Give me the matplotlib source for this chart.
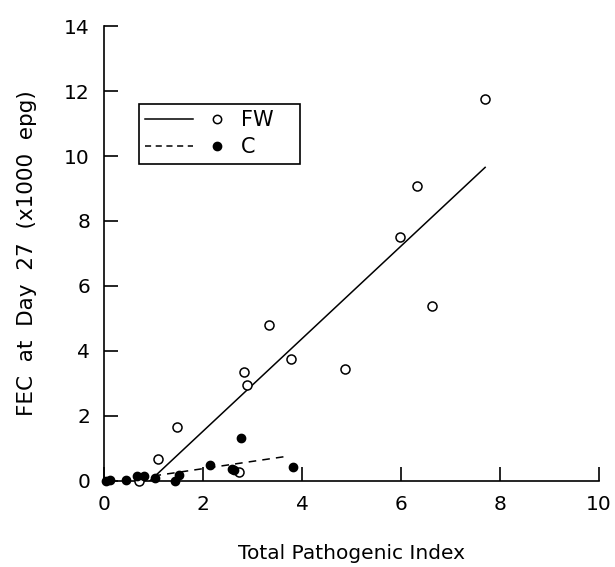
import matplotlib.pyplot as plt
from matplotlib.legend_handler import HandlerTuple
from matplotlib.lines import Line2D

# FW group (open circles)
fw_x = [7.69, 6.32, 5.99, 6.62, 4.86, 3.34, 3.77, 2.83, 2.89, 2.73, 1.48, 1.09, 0.71]
fw_y = [11.75, 9.08, 7.50, 5.38, 3.45, 4.80, 3.75, 3.35, 2.95, 0.28, 1.67, 0.68, 0.0]
fw_fit_x = [0.93, 7.70]
fw_fit_y = [0.0, 9.65]

# C group (filled circles)
c_x = [0.04, 0.12, 0.45, 0.67, 0.81, 1.03, 1.44, 1.52, 2.15, 2.59, 2.63, 2.77, 3.81]
c_y = [0.0, 0.02, 0.03, 0.15, 0.15, 0.09, 0.0, 0.18, 0.49, 0.37, 0.34, 1.32, 0.43]
c_fit_x = [1.00, 3.72]
c_fit_y = [0.15, 0.76]

xticks = [0, 2, 4, 6, 8, 10]
yticks = [0, 2, 4, 6, 8, 10, 12, 14]

plt.rcParams['font.family'] = 'DejaVu Sans'
fig = plt.figure(figsize=(6.15, 5.67), dpi=100)
ax = fig.add_axes([0.169, 0.152, 0.805, 0.802])

ax.plot(fw_fit_x, fw_fit_y, color='black', lw=1.1, ls='-')
ax.plot(c_fit_x, c_fit_y, color='black', lw=1.1, ls=(0, (5, 4)))
ax.plot(fw_x, fw_y, 'o', mfc='white', mec='black', mew=1.1, ms=6.5, clip_on=False, zorder=3)
ax.plot(c_x, c_y, 'o', mfc='black', mec='black', ms=6, clip_on=False, zorder=4)

ax.set_xlim(0, 10)
ax.set_ylim(0, 14)
ax.set_xticks(xticks)
ax.set_yticks(yticks)
ax.spines['top'].set_visible(False)
ax.spines['right'].set_visible(False)
for s in ['left', 'bottom']:
    ax.spines[s].set_linewidth(1.2)
ax.tick_params(direction='in', length=10, width=1.2, labelsize=14.5, pad=10)

ax.set_xlabel('Total Pathogenic Index', fontsize=14.5, labelpad=22)
ax.set_ylabel('FEC  at  Day  27  (x1000  epg)', fontsize=15.5, labelpad=20)

h_fw = (Line2D([], [], color='black', lw=1.1),
        Line2D([], [], ls='', marker='o', mfc='white', mec='black', mew=1.1, ms=6))
h_c = (Line2D([], [], color='black', lw=1.1, ls=(0, (4, 3))),
       Line2D([], [], ls='', marker='o', mfc='black', mec='black', ms=6))
leg = ax.legend([h_fw, h_c], ['FW   ', 'C   '],
                handler_map={tuple: HandlerTuple(ndivide=2, pad=0.0)},
                loc='upper left', bbox_to_anchor=(0.071, 0.829),
                fontsize=15, handlelength=4.6, handletextpad=0.0,
                borderpad=0.3, labelspacing=0.35, fancybox=False,
                framealpha=1, edgecolor='black', borderaxespad=0)
leg.get_frame().set_linewidth(1.2)

fig.savefig('out.png', dpi=100)
